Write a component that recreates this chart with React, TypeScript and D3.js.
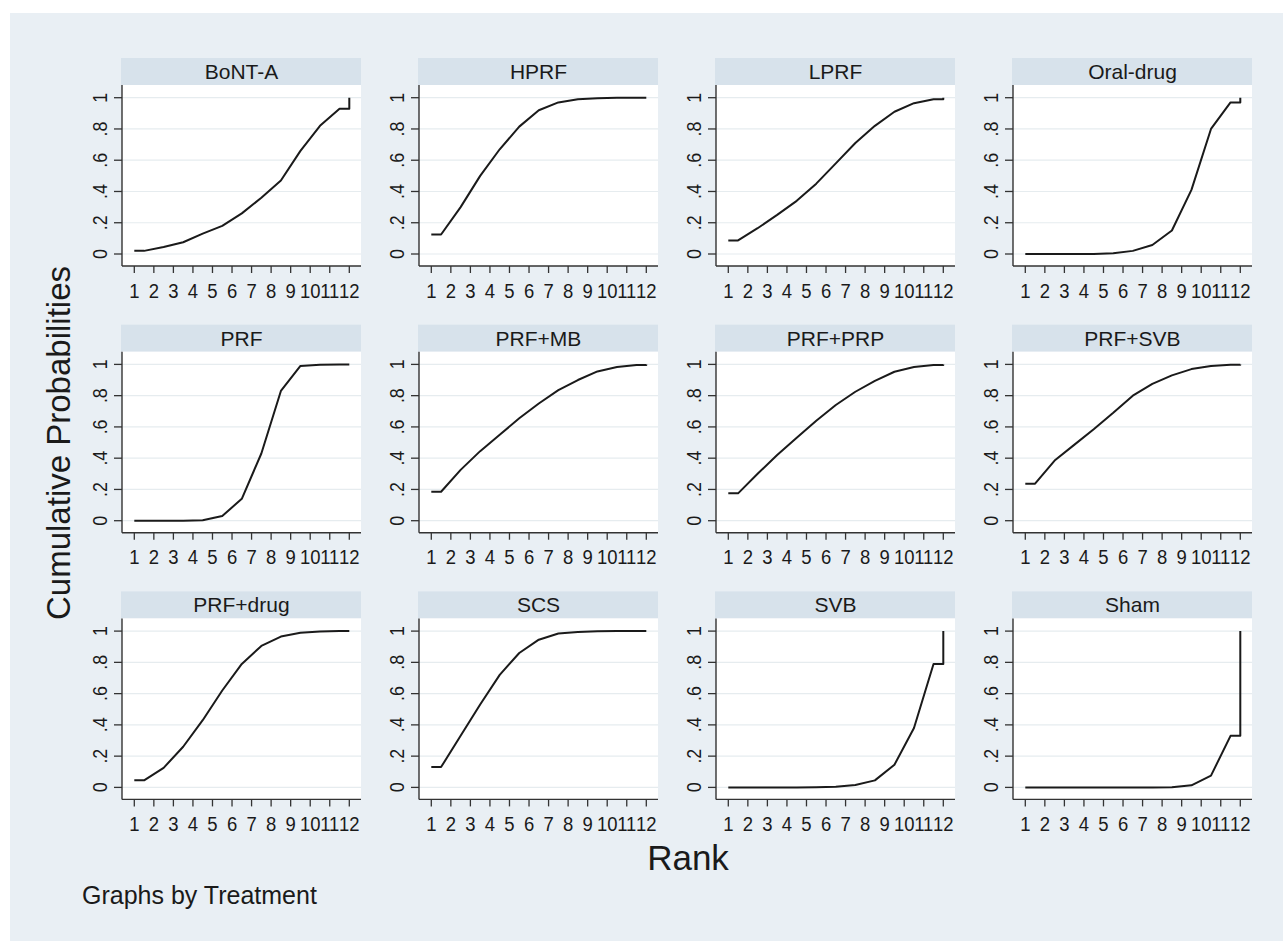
import * as d3 from "d3"

// cumulative probability of being ranked k or better, k = 1..11 (rank 12 is always 1)
const bontA = [0.02, 0.045, 0.075, 0.13, 0.18, 0.26, 0.36, 0.47, 0.66, 0.82, 0.93]
const hprf = [0.125, 0.3, 0.5, 0.67, 0.815, 0.92, 0.97, 0.99, 0.997, 0.999, 1.0]
const lprf = [0.087, 0.165, 0.25, 0.34, 0.45, 0.58, 0.71, 0.82, 0.91, 0.965, 0.99]
const oralDrug = [0, 0, 0, 0, 0.005, 0.02, 0.058, 0.15, 0.41, 0.8, 0.97]
const prf = [0, 0, 0, 0.003, 0.03, 0.14, 0.43, 0.83, 0.99, 0.998, 1.0]
const prfMb = [0.185, 0.325, 0.445, 0.55, 0.655, 0.75, 0.835, 0.9, 0.955, 0.983, 0.996]
const prfPrp = [0.175, 0.3, 0.42, 0.53, 0.64, 0.74, 0.825, 0.895, 0.953, 0.983, 0.996]
const prfSvb = [0.237, 0.385, 0.485, 0.585, 0.69, 0.8, 0.875, 0.93, 0.97, 0.99, 0.998]
const prfDrug = [0.045, 0.125, 0.26, 0.43, 0.62, 0.79, 0.905, 0.965, 0.99, 0.998, 1.0]
const scs = [0.13, 0.33, 0.53, 0.72, 0.86, 0.945, 0.985, 0.995, 0.999, 1.0, 1.0]
const svb = [0, 0, 0, 0, 0.001, 0.004, 0.015, 0.045, 0.145, 0.38, 0.79]
const sham = [0, 0, 0, 0, 0, 0, 0, 0.001, 0.013, 0.075, 0.33]

const treatments = [
    "BoNT-A", "HPRF", "LPRF", "Oral-drug",
    "PRF", "PRF+MB", "PRF+PRP", "PRF+SVB",
    "PRF+drug", "SCS", "SVB", "Sham",
]
const series = [bontA, hprf, lprf, oralDrug, prf, prfMb, prfPrp, prfSvb, prfDrug, scs, svb, sham]

const rankTicks = d3.range(1, 13)
const probTicks = [0, 0.2, 0.4, 0.6, 0.8, 1]
const probLabels = ["0", ".2", ".4", ".6", ".8", "1"]

const W = 1283
const H = 941
const font = "'Liberation Sans', Arial, sans-serif"

function Panel({ name, values, col, row }) {
    const px = 122 + 297 * col
    const py = 85 + 266.7 * row
    const pw = 239
    const ph = 181

    const x = d3.scaleLinear().domain([1, 12]).range([px + 12.3, px + pw - 11.7])
    const y = d3.scaleLinear().domain([0, 1]).range([py + ph - 12, py + 12.7])

    // Stata-style cumulative rank line: flat half-steps at both ends, jump to 1 at last rank
    const pts = [[1, values[0]]]
    values.forEach((v, i) => pts.push([i + 1.5, v]))
    pts.push([12, values[values.length - 1]])
    pts.push([12, 1])
    const path = d3.line().x((d) => x(d[0])).y((d) => y(d[1]))(pts)

    const axisY = py + ph
    return (
        <g>
            <rect x={px - 1} y={py - 27} width={pw + 1} height={27} fill="#d7e2eb" />
            <text
                x={px + pw / 2}
                y={py - 6}
                textAnchor="middle"
                fontSize={21}
                fontFamily={font}
                fill="#1a1a1a"
            >
                {name}
            </text>
            <rect x={px} y={py} width={pw} height={ph} fill="#ffffff" />
            {probTicks.map((t) => (
                <line key={t} x1={px} x2={px + pw} y1={y(t)} y2={y(t)} stroke="#e6ecef" strokeWidth={1.2} />
            ))}
            <line x1={px} x2={px} y1={py} y2={axisY} stroke="#333" strokeWidth={1.4} />
            <line x1={px} x2={px + pw} y1={axisY} y2={axisY} stroke="#333" strokeWidth={1.4} />
            {probTicks.map((t, i) => (
                <g key={t}>
                    <line x1={px - 8} x2={px} y1={y(t)} y2={y(t)} stroke="#333" strokeWidth={1.3} />
                    <text
                        transform={`translate(${px - 15},${y(t)}) rotate(-90) scale(0.85,1)`}
                        textAnchor="middle"
                        fontSize={21}
                        fontFamily={font}
                        fill="#1a1a1a"
                    >
                        {probLabels[i]}
                    </text>
                </g>
            ))}
            {rankTicks.map((t) => (
                <g key={t}>
                    <line x1={x(t)} x2={x(t)} y1={axisY} y2={axisY + 7} stroke="#333" strokeWidth={1.3} />
                    <text
                        transform={`translate(${x(t)},${axisY + 31.5}) scale(0.88,1)`}
                        textAnchor="middle"
                        fontSize={21}
                        fontFamily={font}
                        fill="#1a1a1a"
                    >
                        {t}
                    </text>
                </g>
            ))}
            <path d={path} fill="none" stroke="#1a1a1a" strokeWidth={2} strokeLinejoin="round" />
        </g>
    )
}

export default function App() {
    return (
        <svg
            width={W}
            height={H}
            viewBox={`0 0 ${W} ${H}`}
            style={{ position: "absolute", left: 0, top: 0, display: "block" }}
        >
            <rect x={0} y={0} width={W} height={H} fill="#ffffff" />
            <rect x={10} y={13} width={W - 10} height={H - 13} fill="#e9eff4" />
            {treatments.map((name, i) => (
                <Panel key={name} name={name} values={series[i]} col={i % 4} row={Math.floor(i / 4)} />
            ))}
            <text
                transform="translate(70,443) rotate(-90)"
                textAnchor="middle"
                fontSize={33}
                fontFamily={font}
                fill="#1a1a1a"
            >
                Cumulative Probabilities
            </text>
            <text x={688} y={870} textAnchor="middle" fontSize={35} fontFamily={font} fill="#1a1a1a">
                Rank
            </text>
            <text x={82} y={904} fontSize={25} fontFamily={font} fill="#1a1a1a">
                Graphs by Treatment
            </text>
        </svg>
    )
}
